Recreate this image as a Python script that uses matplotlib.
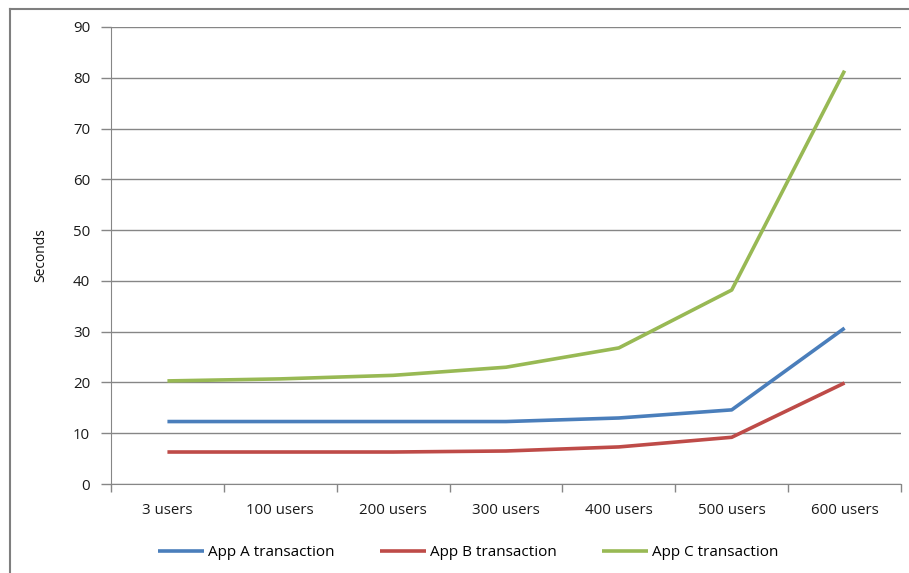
import matplotlib.pyplot as plt
from matplotlib.lines import Line2D

# response time per load level
categories = ["3 users", "100 users", "200 users", "300 users",
              "400 users", "500 users", "600 users"]
app_a = [12.3, 12.3, 12.3, 12.3, 13.0, 14.6, 30.7]
app_b = [6.3, 6.3, 6.3, 6.5, 7.3, 9.2, 19.9]
app_c = [20.3, 20.7, 21.4, 23.0, 26.8, 38.2, 81.4]

series = [
    ("App A transaction", app_a, "#4A7EBB"),
    ("App B transaction", app_b, "#BE4B48"),
    ("App C transaction", app_c, "#98B954"),
]

plt.rcParams["font.family"] = ["Open Sans", "DejaVu Sans"]

fig = plt.figure(figsize=(9.09, 5.73), dpi=100)
ax = fig.add_axes([111 / 909, 1 - 484 / 573, (901 - 111) / 909, (484 - 27) / 573])

grid_c = "#868686"
x = list(range(len(categories)))
for name, vals, col in series:
    ax.plot(x, vals, color=col, lw=2.6, label=name, solid_capstyle="butt")

ax.set_xlim(-0.5, len(categories) - 0.5)
ax.set_ylim(0, 90)
ax.set_yticks(range(0, 91, 10))
ax.set_xticks(x)
ax.set_xticklabels(categories)
ax.set_xticks([i - 0.5 for i in range(len(categories) + 1)], minor=True)
ax.tick_params(axis="x", which="major", length=0, pad=14, labelsize=10.8, labelcolor="#1a1a1a")
ax.tick_params(axis="x", which="minor", length=6, color=grid_c, width=1)
ax.tick_params(axis="y", length=7, color=grid_c, width=1, pad=8, labelsize=10.8, labelcolor="#1a1a1a")

ax.grid(axis="y", color=grid_c, lw=1)
ax.set_axisbelow(True)
for side in ["top", "right"]:
    ax.spines[side].set_visible(False)
ax.spines["left"].set_color(grid_c)
ax.spines["bottom"].set_color(grid_c)

ax.set_ylabel("Seconds", fontsize=10, labelpad=18, color="#111111")

fig.legend(loc="center", bbox_to_anchor=(468 / 909, 1 - 553 / 573), ncol=3,
           frameon=False, fontsize=11, handlelength=3.0, columnspacing=3.0,
           handletextpad=0.25)

# chart area border (left and top edges)
fig.add_artist(Line2D([10 / 909, 10 / 909], [0, 1 - 9 / 573], color="#7f7f7f", lw=1.5,
                      transform=fig.transFigure))
fig.add_artist(Line2D([10 / 909, 1], [1 - 9 / 573, 1 - 9 / 573], color="#7f7f7f", lw=1.5,
                      transform=fig.transFigure))

fig.savefig("out.png", dpi=100)
